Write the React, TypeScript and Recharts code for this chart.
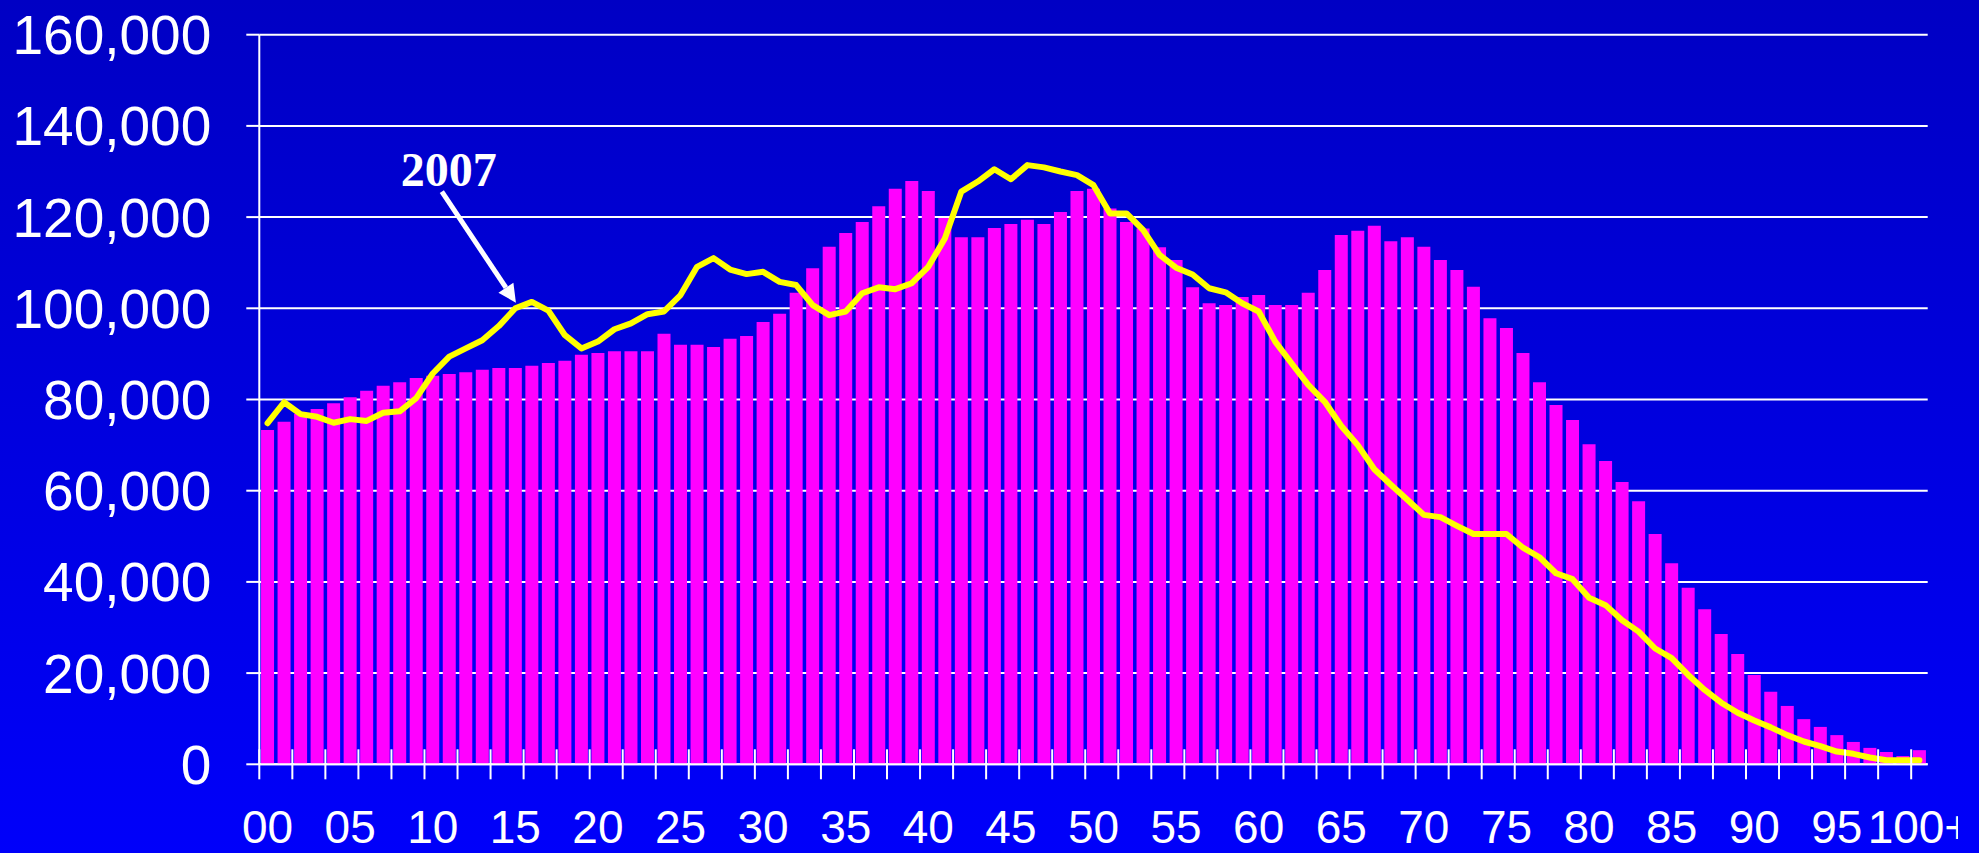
import { Bar, CartesianGrid, ComposedChart, Line, ReferenceLine, XAxis, YAxis } from "recharts";

const AGES = [
  "00", "01", "02", "03", "04", "05", "06", "07", "08", "09",
  "10", "11", "12", "13", "14", "15", "16", "17", "18", "19",
  "20", "21", "22", "23", "24", "25", "26", "27", "28", "29",
  "30", "31", "32", "33", "34", "35", "36", "37", "38", "39",
  "40", "41", "42", "43", "44", "45", "46", "47", "48", "49",
  "50", "51", "52", "53", "54", "55", "56", "57", "58", "59",
  "60", "61", "62", "63", "64", "65", "66", "67", "68", "69",
  "70", "71", "72", "73", "74", "75", "76", "77", "78", "79",
  "80", "81", "82", "83", "84", "85", "86", "87", "88", "89",
  "90", "91", "92", "93", "94", "95", "96", "97", "98", "99",
  "100+",
];

// magenta bars
const POP_BARS = [
  73300, 75100, 76900, 77900, 79200, 80500, 81900, 83000, 83800, 84700,
  85200, 85600, 86000, 86500, 86900, 86900, 87400, 88000, 88500, 89800,
  90200, 90600, 90600, 90600, 94400, 92000, 92000, 91500, 93300, 93900,
  97000, 98800, 103400, 108800, 113500, 116500, 118900, 122400, 126200, 127900,
  125700, 119800, 115600, 115600, 117600, 118500, 119400, 118500, 121100, 125700,
  126200, 121900, 118900, 117500, 113400, 110600, 104600, 101100, 100700, 102500,
  102900, 100700, 100700, 103400, 108400, 116100, 117000, 118100, 114700, 115600,
  113500, 110600, 108400, 104700, 97800, 95700, 90200, 83800, 78800, 75500,
  70200, 66500, 61900, 57700, 50500, 44100, 38700, 34000, 28600, 24200,
  19600, 15900, 12800, 9900, 8200, 6400, 4900, 3600, 2700, 1800,
  3100,
];

// yellow line (2007)
const POP_2007 = [
  74800, 79400, 76800, 76200, 74900, 75700, 75300, 77100, 77400, 80300,
  85700, 89400, 91200, 93000, 96100, 100000, 101400, 99500, 94100, 91200,
  92700, 95400, 96700, 98700, 99300, 102900, 109100, 111000, 108500, 107500,
  108000, 105800, 105100, 100700, 98500, 99300, 103300, 104600, 104200, 105500,
  109100, 115300, 125600, 127800, 130500, 128300, 131400, 130900, 130000, 129200,
  127000, 120800, 120800, 117200, 111700, 108900, 107400, 104400, 103500, 101100,
  99300, 92700, 87900, 83200, 79500, 74200, 70000, 64700, 61300, 58000,
  54700, 54200, 52300, 50500, 50500, 50500, 47500, 45400, 41900, 40600,
  36500, 34900, 31600, 29100, 25400, 23300, 19600, 16300, 13500, 11300,
  9600, 8100, 6400, 5000, 4000, 2800, 2300, 1500, 900, 900,
  900,
];

const Y_TICKS = [0, 20000, 40000, 60000, 80000, 100000, 120000, 140000, 160000];

// arrow from the "2007" label down to the line, in (age position, population)
const ARROW = [
  { x: 10.94, y: 125600 },
  { x: 15.38, y: 101230 },
];
const ARROW_TEXT = "2007";

const data = AGES.map((age, i) => ({ age, bars: POP_BARS[i], y2007: POP_2007[i] }));

const SANS = '"Liberation Sans", Arial, sans-serif';
const WHITE = "#FFFFFF";

function AgeTick(props: any) {
  const { x, y, payload, index } = props;
  const edge = x - (payload?.offset ?? 0);
  return (
    <g>
      {index % 2 === 0 && (
        <line x1={edge} x2={edge} y1={y - 15} y2={y + 15} stroke={WHITE} strokeWidth={2} />
      )}
      {index % 5 === 0 && (
        <text x={x} y={y + 79} textAnchor="middle" fill={WHITE} fontSize={46} fontFamily={SANS}>
          {payload.value}
        </text>
      )}
    </g>
  );
}

function ArrowShape(props: any) {
  const { x1, y1, x2, y2 } = props;
  const dx = x2 - x1;
  const dy = y2 - y1;
  const len = Math.hypot(dx, dy) || 1;
  const ux = dx / len;
  const uy = dy / len;
  const head = 18;
  const half = 9;
  const bx = x2 - ux * head;
  const by = y2 - uy * head;
  return (
    <g>
      <line x1={x1} y1={y1} x2={bx} y2={by} stroke={WHITE} strokeWidth={5} />
      <polygon
        points={`${x2},${y2} ${bx - uy * half},${by + ux * half} ${bx + uy * half},${by - ux * half}`}
        fill={WHITE}
      />
      <text
        x={x1 - 41}
        y={y1 - 6}
        fill={WHITE}
        fontSize={48}
        fontWeight="bold"
        fontFamily='"Liberation Serif", "Times New Roman", serif'
      >
        {ARROW_TEXT}
      </text>
    </g>
  );
}

export default function App() {
  return (
    <div
      style={{
        position: "absolute",
        left: 0,
        top: 0,
        width: 1979,
        height: 853,
        overflow: "hidden",
        background: "linear-gradient(to bottom, #0000C4, #0000FA)",
      }}
    >
      <ComposedChart
        width={1958}
        height={853}
        data={data}
        margin={{ top: 34.7, right: 30.3, bottom: 0, left: 0 }}
        barCategoryGap="10.6%"
      >
        <CartesianGrid vertical={false} stroke={WHITE} strokeWidth={2} />
        <XAxis
          dataKey="age"
          interval={0}
          height={88.7}
          tickLine={false}
          tickSize={0}
          tickMargin={0}
          axisLine={{ stroke: WHITE, strokeWidth: 2 }}
          tick={(p: any) => <AgeTick {...p} />}
        />
        <XAxis xAxisId="pos" type="number" domain={[0, AGES.length]} allowDataOverflow hide />
        <YAxis
          domain={[0, 160000]}
          ticks={Y_TICKS}
          interval={0}
          allowDataOverflow
          width={259.3}
          tickSize={13}
          tickMargin={35}
          axisLine={{ stroke: WHITE, strokeWidth: 2 }}
          tickLine={{ stroke: WHITE, strokeWidth: 2 }}
          tick={{ fill: WHITE, fontSize: 55, fontFamily: SANS }}
          tickFormatter={(v: number) => v.toLocaleString("en-US")}
        />
        <Bar dataKey="bars" fill="#FF00FF" isAnimationActive={false} />
        <Line
          dataKey="y2007"
          type="linear"
          stroke="#FFFF00"
          strokeWidth={6}
          strokeLinecap="round"
          strokeLinejoin="round"
          dot={false}
          activeDot={false}
          isAnimationActive={false}
        />
        <ReferenceLine xAxisId="pos" segment={ARROW} ifOverflow="visible" shape={ArrowShape} />
      </ComposedChart>
    </div>
  );
}
